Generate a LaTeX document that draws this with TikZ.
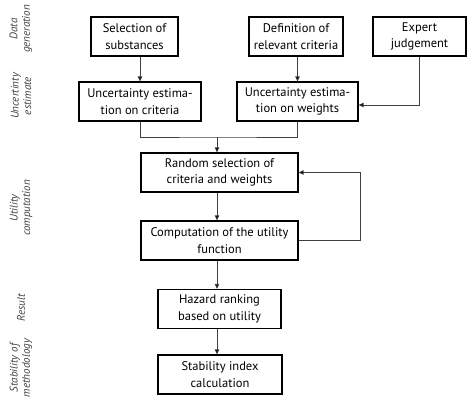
\documentclass[tikz,border=0pt]{standalone}
\usepackage{fontspec}
\setmainfont{PT Sans}
\usetikzlibrary{arrows.meta}
\begin{document}
\begin{tikzpicture}[x=1pt,y=-1pt,
    stepbox/.style={draw,line width=1.2pt,minimum height=39pt,inner sep=1pt,
      align=center,font=\fontsize{12.5}{16.5}\selectfont},
    link/.style={draw=black!75,line width=0.8pt},
    arr/.style={link,-{Triangle[length=5pt,width=4.5pt,fill=black]}},
    phase/.style={rotate=90,align=center,text=black!75,
      font=\fontsize{11}{12.5}\selectfont\itshape}]
    \useasboundingbox (0,0) rectangle (467,402);
    % phases
    \node[phase] (pdata) at (21,29) {Data\\generation};
    \node[phase] (punc) at (21,96) {Uncertinty\\estimate};
    \node[phase] (putil) at (21,208) {Utility\\computation};
    \node[phase] (pres) at (21,308) {Result};
    \node[phase] (pstab) at (21,368) {Stability of\\methodology};
    % boxes
    \node[stepbox,minimum width=87pt] (sel) at (134.5,36.5) {Selection of\\substances};
    \node[stepbox,minimum width=94pt] (defn) at (296,36.5) {Definition of\\relevant criteria};
    \node[stepbox,minimum width=93pt] (expert) at (419.5,36.5) {Expert\\judgement};
    \node[stepbox,minimum width=122pt] (uncc) at (140,101.5) {Uncertainty estima-\\tion on criteria};
    \node[stepbox,minimum width=121pt] (uncw) at (297.5,101.5) {Uncertainty estima-\\tion on weights};
    \node[stepbox,minimum width=157pt] (rand) at (219.5,172.5) {Random selection of\\criteria and weights};
    \node[stepbox,minimum width=157pt] (comp) at (219.5,240.5) {Computation of the utility\\function};
    \node[stepbox,minimum width=123pt] (hazard) at (219.5,309) {Hazard ranking\\based on utility};
    \node[stepbox,minimum width=124pt] (stab) at (220,374.5) {Stability index\\calculation};
    % connectors
    \coordinate (merge) at (217,137);
    \draw[arr] (sel.south -| uncc.north) -- (uncc.north);
    \draw[arr] (defn.south -| uncw.north) -- (uncw.north);
    \draw[arr] (expert.south) |- ([yshift=-3.5pt]uncw.east);
    \draw[link] (uncc.south) |- (merge) -| (uncw.south);
    \draw[arr] (merge) -- (merge |- rand.north);
    \draw[arr] (merge |- rand.south) -- (merge |- comp.north);
    \draw[arr] (comp.east) -- ++(62,0) |- (rand.east);
    \draw[arr] (merge |- comp.south) -- (merge |- hazard.north);
    \draw[arr] (merge |- hazard.south) -- (merge |- stab.north);
\end{tikzpicture}
\end{document}
